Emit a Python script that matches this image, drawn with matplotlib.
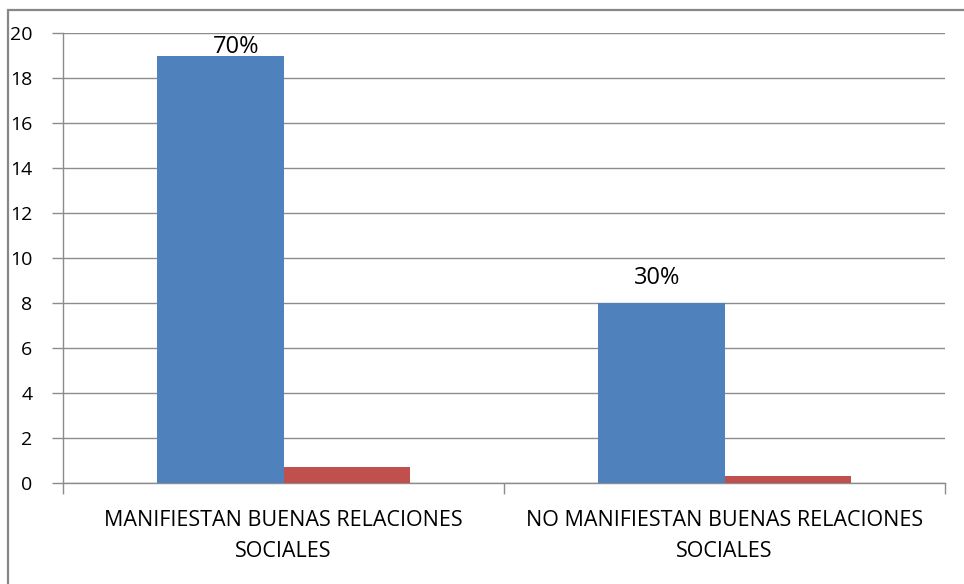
import matplotlib
matplotlib.use("Agg")
import matplotlib.pyplot as plt
from matplotlib.patches import Rectangle
import numpy as np

categories = ["MANIFIESTAN BUENAS RELACIONES\nSOCIALES", "NO MANIFIESTAN BUENAS RELACIONES\nSOCIALES"]
counts = [19, 8]
fractions = [0.7, 0.3]
labels = ["70%", "30%"]
yticks = [0, 2, 4, 6, 8, 10, 12, 14, 16, 18, 20]

plt.rcParams['font.family'] = ['Open Sans', 'DejaVu Sans']

W, H = 964, 584
fig = plt.figure(figsize=(W / 100, H / 100), dpi=100)
ax = fig.add_axes([63 / W, 1 - 483 / H, (945 - 63) / W, (483 - 33) / H])

# outer frame
fig.patches.append(Rectangle((8 / W, -0.01), 1.2, 1 - 10 / H + 0.01, transform=fig.transFigure,
                             fill=False, edgecolor='#878787', linewidth=1.6))

x = np.arange(len(categories))
bw = 0.286
ax.bar(x - bw / 2, counts, bw, color='#4F81BD', zorder=3)
ax.bar(x + bw / 2, fractions, bw, color='#C0504D', zorder=3)
label_pos = [(0.035, 0.1), (-0.01, 0.85)]
for xi, c, lab, (dx, dy) in zip(x, counts, labels, label_pos):
    ax.text(xi - bw / 2 + dx, c + dy, lab, ha='center', va='baseline', fontsize=17,
            color='black', zorder=4)

ax.set_xlim(-0.5, 1.5)
ax.set_ylim(0, 20)
ax.set_yticks(yticks)
ax.set_yticklabels([str(v) for v in yticks], fontsize=14)
ax.yaxis.grid(True, color='#8c8c8c', linewidth=1, zorder=0)
ax.set_xticks([-0.5, 0.5, 1.5])
ax.set_xticklabels([])
ax.tick_params(axis='x', length=8, color='#8c8c8c', width=1)
ax.tick_params(axis='y', length=8, color='#8c8c8c', width=1, pad=14)
for xi, cat in zip(x, categories):
    ax.text(xi, -1.2, cat, ha='center', va='top', fontsize=15.5, linespacing=1.6,
            transform=ax.transData)
for s in ['top', 'right']:
    ax.spines[s].set_visible(False)
for s in ['left', 'bottom']:
    ax.spines[s].set_color('#8c8c8c')
    ax.spines[s].set_linewidth(1)

fig.savefig("out.png", dpi=100)
